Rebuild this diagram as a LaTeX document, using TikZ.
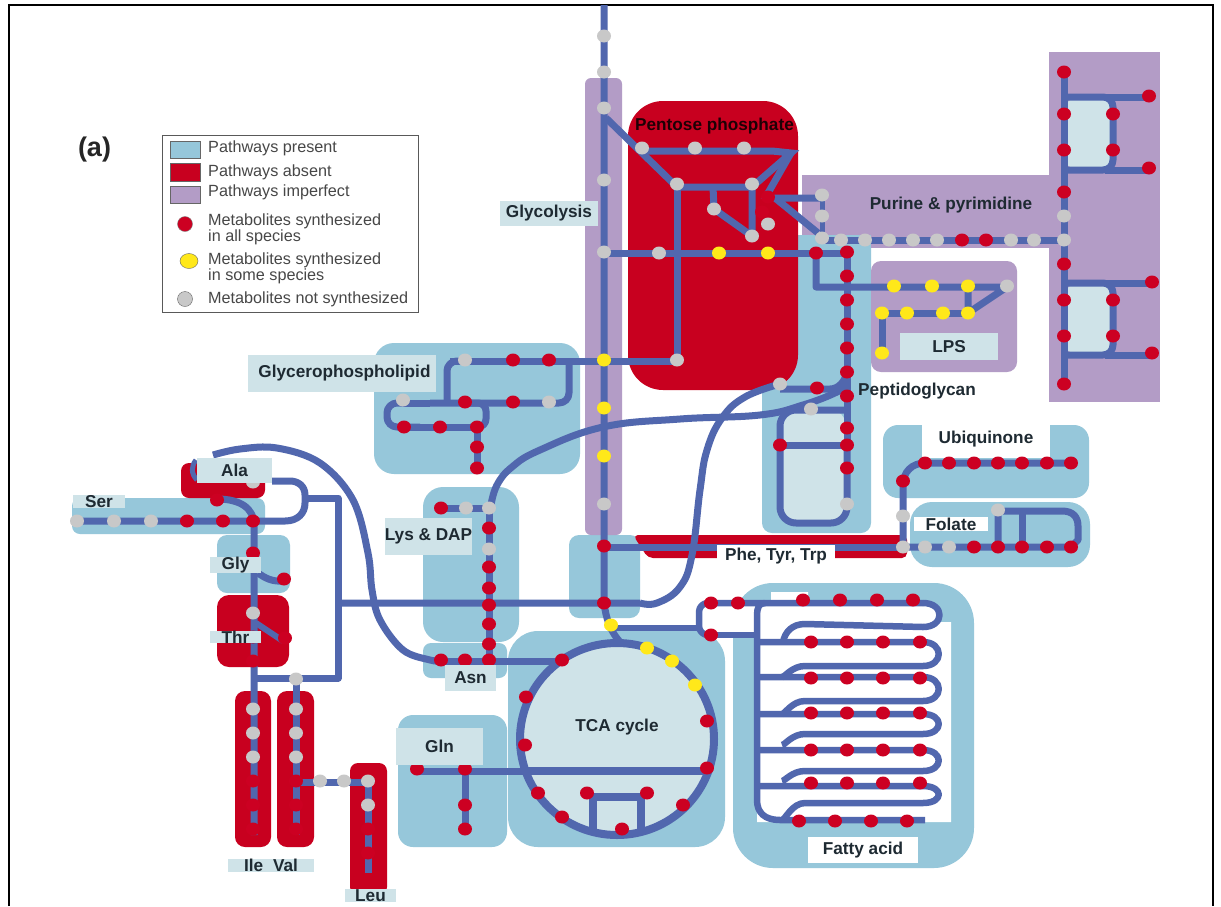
\documentclass[tikz,border=0pt]{standalone}
\usepackage{fontspec}
\setmainfont{Liberation Sans}
\definecolor{rblue}{HTML}{96C7DA}
\definecolor{rred}{HTML}{C8001F}
\definecolor{rpurple}{HTML}{B39CC6}
\definecolor{rpale}{HTML}{CFE3E8}
\definecolor{rpath}{HTML}{5167AE}
\definecolor{dred}{HTML}{CC0022}
\definecolor{dyel}{HTML}{FFE81A}
\definecolor{dgray}{HTML}{C8C8C8}
\definecolor{labtxt}{HTML}{1E2A32}
\newcommand{\reddots}[1]{\foreach \p in {#1}{\fill[dred] \p circle[x radius=7pt,y radius=6.5pt];}}
\newcommand{\yeldots}[1]{\foreach \p in {#1}{\fill[dyel] \p circle[x radius=7pt,y radius=6.5pt];}}
\newcommand{\grydots}[1]{\foreach \p in {#1}{\fill[dgray] \p circle[x radius=7pt,y radius=6.5pt];}}
\tikzset{
  pw/.style={draw=rpath,line width=7pt,line join=round},
  lab/.style={font=\fontsize{17.2}{19}\selectfont\bfseries,text=labtxt,inner sep=0pt,anchor=center},
  leg/.style={font=\fontsize{16.2}{16}\selectfont,text=black!72,inner sep=0pt,anchor=west,align=left},
  swatch/.style={draw=black!60,line width=0.8pt},
}
\begin{document}
\begin{tikzpicture}[x=1pt,y=-1pt]
\useasboundingbox (0,0) rectangle (1221,906);
\fill[white] (0,0) rectangle (1221,906);
\draw[black,line width=2pt] (9,906) -- (9,5) -- (1213,5) -- (1213,906);

% ---------- regions: present
\fill[rblue,rounded corners=20pt] (374,343) rectangle (580,474);
\fill[rblue,rounded corners=20pt] (423,487) rectangle (519,642);
\fill[rblue,rounded corners=8pt] (423,643) rectangle (507,678);
\fill[rblue,rounded corners=15pt] (398,715) rectangle (507,847);
\fill[rblue,rounded corners=30pt] (508,631) rectangle (725,847);
\fill[rblue,rounded corners=10pt] (569,535) rectangle (640,618);
\fill[rblue,rounded corners=10pt] (762,235) rectangle (871,533);
\fill[rblue,rounded corners=15pt] (883,425) rectangle (1089,498);
\fill[rblue,rounded corners=22pt] (910,502) rectangle (1090,567);
\fill[rblue,rounded corners=40pt] (733,583) rectangle (974,868);
\fill[rblue,rounded corners=8pt] (72,498) rectangle (265,534);
\fill[rblue,rounded corners=10pt] (217,535) rectangle (290,593);
% white cut-outs
\fill[white] (922,425) rectangle (1050,458);
\fill[white] (771,592) -- (808,592) -- (808,603) -- (935,603) -- (940,622) -- (951,622) -- (951,822) -- (757,822) -- (757,603) -- (771,603) -- cycle;
\fill[white] (698,606) rectangle (755,632);
% ---------- regions: absent
\fill[rred,rounded corners=35pt] (628,101) rectangle (798,390);
\fill[rred,rounded corners=5pt] (633,535) -- (907,535) -- (907,558) -- (648,558) -- cycle;
\fill[rred,rounded corners=8pt] (181,463) rectangle (265,498);
\fill[rred,rounded corners=12pt] (217,595) rectangle (289,667);
\fill[rred,rounded corners=10pt] (235,691) rectangle (271,847);
\fill[rred,rounded corners=10pt] (277,691) rectangle (314,847);
\fill[rred,rounded corners=8pt] (350,763) rectangle (387,895);
% ---------- regions: imperfect
\fill[rpurple,rounded corners=6pt] (585,78) rectangle (622,535);
\fill[rpurple] (802,175) rectangle (1049,248);
\fill[rpurple] (1049,52) rectangle (1160,402);
\fill[rpurple,rounded corners=10pt] (871,261) rectangle (1017,372);
\fill[rblue] (802,235) rectangle (871,248);
\fill[rpurple] (871,235) rectangle (1049,248);
% ---------- pale interiors
\fill[rpale,rounded corners=8pt] (1066,99) rectangle (1111,168);
\fill[rpale,rounded corners=8pt] (1066,285) rectangle (1111,353);
\fill[rpale,rounded corners=12pt] (782,411) rectangle (845,521);
\fill[rpale] (617,739) ellipse[x radius=97pt,y radius=96pt];

% ---------- pathways
% glycolysis axis
\draw[pw] (604,5) -- (604,603) .. controls (606,618) and (610,632) .. (622,644);
\draw[pw] (604,253) -- (847,253);
\draw[pw] (677,184) -- (677,361);
\draw[pw] (450,361) -- (677,361);
% pentose phosphate
\draw[pw] (606,118) -- (677,187) -- (752,187);
\draw[pw,line join=miter] (642,151) -- (772,151) -- (791,153) -- (752,187);
\draw[pw,line join=miter] (791,153) -- (764,200);
\draw[pw] (713,187) -- (714,209) -- (752,236) -- (752,187);
\draw[pw] (822,198) -- (775,198) -- (818,233);
\draw[pw,line width=5pt] (822,195) -- (822,238);
% purine and pyrimidine
\draw[pw] (822,240) -- (1064,240);
\draw[pw] (1064,72) -- (1064,384);
\draw[pw,rounded corners=10pt] (1064,97) -- (1113,97) -- (1113,170) -- (1064,170);
\draw[pw] (1105,97) -- (1149,97);
\draw[pw] (1105,170) -- (1149,170);
\draw[pw,rounded corners=10pt] (1064,283) -- (1113,283) -- (1113,355) -- (1064,355);
\draw[pw] (1105,283) -- (1152,283);
\draw[pw] (1105,355) -- (1152,355);
% LPS
\draw[pw] (816,253) -- (816,287) -- (1007,287) -- (968,313) -- (968,287);
\draw[pw] (968,313) -- (882,313) -- (882,353);
% peptidoglycan
\draw[pw] (847,253) -- (847,445);
\draw[pw,rounded corners=16pt] (847,445) -- (847,523) -- (780,523) -- (780,410) -- (847,410);
\draw[pw] (780,445) -- (847,445);
\draw[pw] (780,389) -- (830,389) .. controls (838,389) and (845,382) .. (847,372);
% long curves
\draw[pw] plot[smooth,tension=0.7] coordinates {(491,505) (497,485) (512,467) (540,450) (603,427) (680,419) (760,415) (803,405) (837,392) (847,384)};
\draw[pw] (338,603) -- (640,603) plot[smooth,tension=0.7] coordinates {(640,603) (657,603) (680,587) (692,555) (700,490) (707,450) (722,418) (745,397) (780,384)};
\draw[pw] plot[smooth,tension=0.6] coordinates {(213,455) (240,449) (277,448) (320,463) (353,500) (368,553) (372,590) (380,620) (403,650) (430,660) (441,661)};
\draw[pw] (441,661) -- (562,661);
\draw[pw] (489,507) -- (489,661);
\draw[pw] (441,508) -- (489,508);
% glycerophospholipid
\draw[pw,rounded corners=10pt] (447,402) -- (447,361) -- (470,361);
\draw[pw,rounded corners=10pt] (403,403) -- (387,403) -- (387,427) -- (420,427);
\draw[pw] (403,403) -- (430,403);
\draw[pw] (404,427) -- (477,427) -- (477,468);
\draw[pw,rounded corners=8pt] (430,403) -- (486,403) -- (486,427) -- (470,427);
\draw[pw,rounded corners=10pt] (470,403) -- (569,403) -- (569,361);
% TCA
\draw[pw,line width=8pt] (617,739) ellipse[x radius=97pt,y radius=96pt];
\draw[pw,line width=8pt] (520,771) -- (707,771);
\draw[pw] (417,771) -- (520,771);
\draw[pw] (465,771) -- (465,829);
\draw[pw,line width=7.5pt] (593,832) -- (593,797) -- (641,797) -- (641,832);
% fatty acid
\draw[pw,line width=6.5pt] (611,628) -- (700,628);
\draw[pw,line width=6.5pt,rounded corners=9pt] (711,635) -- (699,635) -- (699,603) -- (923,603);
\draw[pw,line width=6.5pt] (711,635) -- (757,635);
\draw[pw,line width=6.5pt] (923,603) .. controls (945,603) and (945,627) .. (923,627) -- (805,624) .. controls (792,624) and (785,632) .. (783,642);
\foreach \a/\c/\d in {642/666/677, 677/701/714, 714/734/745, 750/771/781, 786/803/820}{
  \draw[pw,line width=6.5pt] (757,\a) -- (923,\a) .. controls (944,\a) and (944,\c) .. (923,\c) -- (805,\c) .. controls (792,\c) and (785,\d) .. (782,\d);
}
\draw[pw,line width=6.5pt] (765,603) .. controls (759,603) and (757,608) .. (757,615) -- (757,800) .. controls (757,813) and (765,820) .. (780,820) -- (925,820);
% ubiquinone and folate
\draw[pw] (1071,463) -- (925,463) .. controls (912,463) and (903,472) .. (903,485) -- (903,547) -- (1071,547);
\draw[pw] (998,547) -- (998,511) -- (1062,511) .. controls (1073,511) and (1078,517) .. (1078,526) -- (1078,540) -- (1071,547);
\draw[pw] (1022,511) -- (1022,547);
% Phe Tyr Trp
\draw[pw] (604,547) -- (903,547);
% left part
\draw[pw] (77,521) -- (285,521) .. controls (298,521) and (305,513) .. (305,503) -- (305,495) .. controls (305,486) and (298,481) .. (290,481) -- (272,481);
\draw[pw] (305,498) -- (338,498) -- (338,678) -- (254,678);
\draw[pw] (217,499) .. controls (240,499) and (254,508) .. (254,525) -- (254,835);
\draw[pw] (258,573) .. controls (265,578) and (272,582) .. (284,581);
\draw[pw,line width=6pt] (256,623) -- (283,641);
\draw[pw] (296,678) -- (296,835);
\draw[pw] (296,782) -- (368,782) -- (368,873);
\draw[pw,line width=5pt] (196,460) .. controls (191,466) and (191,474) .. (197,480);

% ---------- metabolites
\grydots{(604,36),(604,72),(604,108),(604,180),(604,252),(604,504),(642,148),(695,148),(744,148),(677,184),(752,184),(714,209),(752,236),(768,224),(659,253),(677,360),(822,195),(822,216),(822,238),(841,240),(865,240),(889,240),(913,240),(937,240),(1011,240),(1034,240),(1064,240),(1064,216),(1007,286),(780,384),(811,409),(847,504),(903,516),(903,547),(925,547),(949,547),(998,510),(465,360),(403,400),(549,402),(466,508),(489,508),(489,549),(77,521),(114,521),(151,521),(253,482),(253,613),(296,679),(253,709),(253,733),(253,757),(296,709),(296,733),(296,757),(320,781),(344,781),(368,781),(368,805)}
\yeldots{(604,360),(604,408),(604,456),(611,625),(719,253),(768,253),(894,286),(932,286),(968,286),(882,313),(907,313),(943,313),(968,313),(882,353),(647,648),(672,661),(695,685)}
\reddots{(604,546),(604,603),(768,197),(762,212),(816,253),(847,252),(847,276),(847,300),(847,324),(847,348),(847,372),(847,396),(817,388),(847,428),(847,445),(847,468),(780,445),(962,240),(986,240),(1064,72),(1064,114),(1064,150),(1064,192),(1064,264),(1064,300),(1064,336),(1064,384),(1149,96),(1149,168),(1113,114),(1113,150),(1152,282),(1152,353),(1113,300),(1113,336),(925,463),(949,463),(974,463),(998,463),(1022,463),(1047,463),(1071,463),(903,481),(974,547),(998,547),(1022,547),(1047,547),(1071,547),(513,360),(549,360),(465,402),(513,402),(404,427),(440,427),(477,427),(477,447),(477,468),(441,508),(489,528),(489,567),(489,588),(489,605),(489,624),(489,644),(441,660),(465,660),(489,660),(562,660),(526,697),(525,745),(538,793),(562,817),(622,829),(683,805),(707,768),(707,721),(587,793),(647,793),(417,769),(465,769),(465,805),(465,829),(711,603),(738,603),(711,635),(187,521),(223,521),(253,521),(217,500),(253,553),(284,579),(285,638),(253,637),(253,661),(253,781),(253,805),(253,829),(296,781),(296,805),(296,829),(368,829),(368,853)}
\foreach \yy in {642,678,713,750,783}{\reddots{(811,\yy),(847,\yy),(883,\yy),(920,\yy)}}
\reddots{(803,600),(840,600),(877,600),(913,600),(799,821),(835,821),(871,821),(907,821)}

% ---------- labels
\node[fill=rpale,minimum width=98pt,minimum height=25pt,lab] (lglyc) at (549,213) {Glycolysis};
\node[lab,text=black!85!rred] (lpent) at (714.5,126) {Pentose phosphate};
\node[lab] (lpur) at (951,205.5) {Purine \& pyrimidine};
\node[fill=rpale,minimum width=98pt,minimum height=27pt,lab] (llps) at (949,346.5) {LPS};
\node[lab] (lpep) at (917,391) {Peptidoglycan};
\node[fill=rpale,minimum width=188pt,minimum height=37pt,lab] (lgp) at (342,373.5) {\hspace{5pt}Glycerophospholipid};
\node[fill=rpale,minimum width=87pt,minimum height=37pt,lab] (llys) at (428.5,536.5) {Lys \& DAP};
\node[fill=rpale,minimum width=51pt,minimum height=26pt,lab] (lasn) at (470.5,678) {Asn};
\node[fill=rpale,minimum width=87pt,minimum height=37pt,lab] (lgln) at (439.5,746.5) {Gln};
\node[lab] (ltca) at (617,727) {TCA cycle};
\node[lab] (lubi) at (986,439) {Ubiquinone};
\node[fill=white,minimum width=74pt,minimum height=14pt,lab] (lfol) at (951,524) {Folate};
\node[fill=white,minimum width=118pt,minimum height=23pt,lab] (lphe) at (776,556.5) {Phe, Tyr, Trp};
\node[fill=white,minimum width=110pt,minimum height=26pt,lab] (lfat) at (863,850) {Fatty acid};
\node[fill=rpale,minimum width=52pt,minimum height=13pt,lab] (lser) at (99,501.5) {Ser};
\node[fill=rpale,minimum width=75pt,minimum height=25pt,lab] (lala) at (234.5,470.5) {Ala};
\node[fill=rpale,minimum width=51pt,minimum height=14pt,lab] (lgly) at (235.5,565) {Gly};
\node[fill=rpale,minimum width=51pt,minimum height=12pt,lab] (lthr) at (235.5,637) {Thr};
\node[fill=rpale,minimum width=86pt,minimum height=13pt,lab] (lilv) at (271,865.5) {Ile\hspace{10pt}Val};
\node[fill=rpale,minimum width=51pt,minimum height=13pt,lab] (lleu) at (370.5,895.5) {Leu};
\node[inner sep=0pt,font=\fontsize{27}{29}\selectfont\bfseries,text=black!85] (la) at (94.5,150) {(a)};

% ---------- legend
\draw[black!65,line width=1pt,fill=white] (162,135) rectangle (418,312);
\draw[swatch,fill=rblue] (170,141) rectangle (200,158);
\draw[swatch,fill=rred] (170,163) rectangle (200,181);
\draw[swatch,fill=rpurple] (170,186) rectangle (200,203);
\draw[black!50,fill=dred] (185,224) circle[radius=7.5pt];
\draw[black!60,fill=dyel] (189,261) circle[x radius=9pt,y radius=7.5pt];
\draw[black!60,fill=dgray] (185,299) circle[radius=7.5pt];
\node[leg] (t1) at (208,148) {Pathways present};
\node[leg] (t2) at (208,172) {Pathways absent};
\node[leg] (t3) at (208,192) {Pathways imperfect};
\node[leg] (t4) at (208,229) {Metabolites synthesized\\in all species};
\node[leg] (t5) at (208,268) {Metabolites synthesized\\in some species};
\node[leg] (t6) at (208,299) {Metabolites not synthesized};
\end{tikzpicture}
\end{document}
